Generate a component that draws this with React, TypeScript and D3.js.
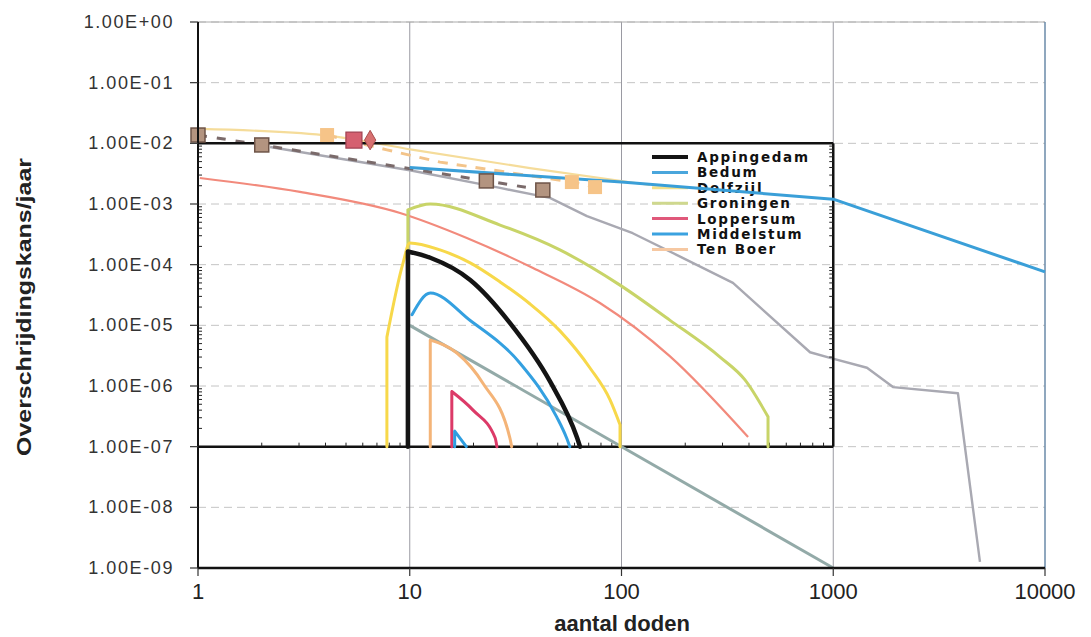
import React from "react";
import * as d3 from "d3";

type P = [number, number];

const X_TICKS = [1, 10, 100, 1000, 10000];
const Y_TICKS = [1, 1e-1, 1e-2, 1e-3, 1e-4, 1e-5, 1e-6, 1e-7, 1e-8, 1e-9];

// inset series (legend)
const appingedam: P[] = [[9.8, 1e-7], [9.8, 1.65e-4], [12.5, 1.3e-4], [19.3, 5.6e-5], [29.7, 1.1e-5], [45.9, 1.2e-6], [61.7, 1.4e-7], [63.7, 1e-7]];
const bedum: P[] = [[10.25, 1.5e-5], [12.5, 3.4e-5], [19.3, 1.2e-5], [33.1, 2.4e-6], [49.4, 3.1e-7], [55, 1.4e-7], [57, 1e-7]];
const delfzijl: P[] = [[7.8, 1e-7], [7.8, 6.4e-6], [9.3, 1.07e-4], [10, 2.28e-4], [13.9, 1.75e-4], [19.3, 1.07e-4], [26.7, 5.2e-5], [37, 2.25e-5], [51.2, 8.1e-6], [71, 1.98e-6], [88.3, 5.9e-7], [98.4, 2.3e-7], [98.4, 1e-7]];
const groningen: P[] = [[9.8, 1e-7], [9.8, 8e-4], [12.5, 1e-3], [26.7, 4.5e-4], [51.2, 1.75e-4], [98.4, 4.6e-5], [169, 1.22e-5], [292, 3.0e-6], [383, 1.26e-6], [492, 3.1e-7], [492, 1e-7]];
const loppersum: P[] = [[15.8, 1e-7], [15.8, 8.1e-7], [19.9, 4e-7], [25.3, 1.4e-7], [25.8, 1e-7]];
const middelstum: P[] = [[16.3, 1e-7], [16.3, 1.8e-7], [18.5, 1e-7]];
const tenBoer: P[] = [[12.5, 1e-7], [12.5, 5.7e-6], [16.7, 3.5e-6], [22.2, 1.1e-6], [29.7, 1.4e-7], [30.3, 1e-7]];

const LEGEND_NAMES = ["Appingedam", "Bedum", "Delfzijl", "Groningen", "Loppersum", "Middelstum", "Ten Boer"];
const LEGEND_COLORS = ["#141414", "#4aa6dc", "#f2e08a", "#cfd88e", "#e0587a", "#3aa2e0", "#f6c8a2"];
const INSET_COLORS = ["#141414", "#34a0e0", "#f7d84a", "#c8d468", "#dc3a68", "#2e9ee0", "#f4b478"];

// background (main) series
const salmonCurve: P[] = [[1.02, 2.68e-3], [3.03, 1.58e-3], [9, 7.1e-4], [18.6, 2.75e-4], [38.2, 8.8e-5], [79.1, 2.33e-5], [169, 3.1e-6], [396, 1.44e-7]];
const blueCurve: P[] = [[10, 4.0e-3], [100, 2.3e-3], [1000, 1.2e-3], [10000, 7.6e-5]];
const grayCurve: P[] = [[2.19, 8.7e-3], [10, 3.6e-3], [26.7, 1.84e-3], [45.9, 1.26e-3], [68.7, 6.3e-4], [113, 3.3e-4], [183, 1.44e-4], [336, 5e-5], [777, 3.6e-6], [966, 2.9e-6], [1443, 2e-6], [1915, 9.6e-7], [3880, 7.6e-7], [4930, 1.26e-9]];
const normLine: P[] = [[10, 1e-5], [1000, 1e-9]];
const brownDashed: P[] = [[1, 1.37e-2], [2, 9.4e-3], [23, 2.4e-3], [42.5, 1.7e-3]];
const paleYellow: P[] = [[1.02, 1.73e-2], [3.9, 1.37e-2], [10.4, 7.8e-3], [37, 3.9e-3], [136, 2.06e-3]];
const tanDashed: P[] = [[4.07, 1.37e-2], [7.8, 7.8e-3], [13.9, 4.9e-3], [58.3, 2.3e-3], [75, 1.9e-3]];
const tanMarkers: P[] = [[4.07, 1.37e-2], [58.3, 2.3e-3], [75, 1.9e-3]];
const pinkSquare: P[] = [[5.45, 1.13e-2]];
const pinkDiamond: P[] = [[6.5, 1.13e-2]];

const fmtY = (v: number) => {
  const e = Math.round(Math.log10(v));
  const s = Math.abs(e).toString().padStart(2, "0");
  return "1.00E" + (e >= 0 ? "+" : "-") + s;
};

export default function App() {
  const x = d3.scaleLog().domain([1, 10000]).range([198, 1045]);
  const y = d3.scaleLog().domain([1, 1e-9]).range([22, 568]);
  const line = d3.line<P>().x((d) => x(d[0])).y((d) => y(d[1]));
  const smooth = d3.line<P>().x((d) => x(d[0])).y((d) => y(d[1])).curve(d3.curveMonotoneX);

  // vertical ends straight, curved middle
  const curvePath = (pts: P[]) => {
    let s = 0;
    while (s < pts.length - 1 && pts[s + 1][0] === pts[s][0]) s++;
    let e = pts.length - 1;
    while (e > 0 && pts[e - 1][0] === pts[e][0]) e--;
    const parts: string[] = [];
    if (s > 0) parts.push(line(pts.slice(0, s + 1))!);
    parts.push(smooth(pts.slice(s, e + 1))!);
    if (e < pts.length - 1) parts.push(line(pts.slice(e))!);
    return parts.join("");
  };

  const insetTop = y(1e-2);
  const insetBottom = y(1e-7);
  const insetRight = x(1000);

  const minorY: number[] = [];
  for (let e = -7; e < -2; e++) for (let m = 2; m <= 9; m++) minorY.push(m * Math.pow(10, e));
  const minorX: number[] = [];
  for (let e = 0; e < 3; e++) for (let m = 2; m <= 9; m++) minorX.push(m * Math.pow(10, e));

  const inset: P[][] = [appingedam, bedum, delfzijl, groningen, loppersum, middelstum, tenBoer];
  const drawOrder = [3, 2, 6, 4, 5, 1, 0];

  return (
    <svg width={1091} height={637} style={{ position: "absolute", left: 0, top: 0, background: "#fff" }}>
      {/* grid */}
      {Y_TICKS.map((t) => (
        <line key={"gy" + t} x1={x(1)} x2={x(10000)} y1={y(t)} y2={y(t)} stroke="#c4c4c4" strokeWidth={1} strokeDasharray="8,5" />
      ))}
      {X_TICKS.slice(1, 4).map((t) => (
        <line key={"gx" + t} x1={x(t)} x2={x(t)} y1={y(1)} y2={y(1e-9)} stroke="#9a9aa2" strokeWidth={1} />
      ))}
      {/* plot frame */}
      <line x1={x(1)} x2={x(10000)} y1={y(1)} y2={y(1)} stroke="#aaaaaa" strokeWidth={1} />
      <line x1={x(10000)} x2={x(10000)} y1={y(1)} y2={y(1e-9)} stroke="#6a8aa8" strokeWidth={1.5} />

      {/* main background series */}
      <path d={smooth(salmonCurve)!} fill="none" stroke="#f28a7c" strokeWidth={2.2} />
      <path d={line(grayCurve)!} fill="none" stroke="#a9a9b2" strokeWidth={2.4} strokeLinejoin="round" />
      <path d={smooth(paleYellow)!} fill="none" stroke="#f5dc9a" strokeWidth={2.2} />
      <path d={line(tanDashed)!} fill="none" stroke="#f3c48a" strokeWidth={3} strokeDasharray="10,9" />
      <path d={line(brownDashed)!} fill="none" stroke="#7a6a6a" strokeWidth={3} strokeDasharray="9,10" />

      {/* inset frame */}
      <line x1={x(1)} x2={insetRight} y1={insetTop} y2={insetTop} stroke="#111" strokeWidth={2.5} />
      <line x1={insetRight} x2={insetRight} y1={insetTop} y2={insetBottom} stroke="#111" strokeWidth={2.5} />
      <line x1={x(1)} x2={insetRight} y1={insetBottom} y2={insetBottom} stroke="#111" strokeWidth={2.5} />
      {minorY.map((v) => (
        <g key={"my" + v}>
          <line x1={x(1)} x2={x(1) + 4} y1={y(v)} y2={y(v)} stroke="#222" strokeWidth={1} />
          <line x1={insetRight - 4} x2={insetRight} y1={y(v)} y2={y(v)} stroke="#222" strokeWidth={1} />
        </g>
      ))}
      {minorX.map((v) => (
        <line key={"mx" + v} x1={x(v)} x2={x(v)} y1={insetBottom - 4} y2={insetBottom} stroke="#222" strokeWidth={1} />
      ))}

      {/* norm line */}
      <path d={line(normLine)!} fill="none" stroke="#93aaa8" strokeWidth={3} />

      {/* inset curves */}
      {drawOrder.map((i) => (
        <path key={"ins" + i} d={curvePath(inset[i])} fill="none" stroke={INSET_COLORS[i]} strokeWidth={i === 0 ? 4.5 : 3} strokeLinejoin="round" strokeLinecap="round" />
      ))}

      {/* legend */}
      {LEGEND_NAMES.map((n, i) => (
        <g key={n} transform={`translate(652, ${157 + i * 15.4})`}>
          <line x1={0} x2={36} y1={0} y2={0} stroke={LEGEND_COLORS[i]} strokeWidth={i === 0 ? 4 : 3} />
          <text x={45} y={5} fontFamily="DejaVu Sans, Verdana, sans-serif" fontWeight="bold" fontSize={13.5} letterSpacing={1.7} fill="#111">
            {n}
          </text>
        </g>
      ))}

      {/* blue main line over legend */}
      <path d={line(blueCurve)!} fill="none" stroke="#3a9fd8" strokeWidth={3} strokeLinejoin="round" />

      {/* markers */}
      {brownDashed.map((d, i) => (
        <rect key={"bm" + i} x={x(d[0]) - 7} y={y(d[1]) - 7} width={14} height={14} fill="#b39480" stroke="#6e5448" strokeWidth={1.5} />
      ))}
      {tanMarkers.map((d, i) => (
        <rect key={"tm" + i} x={x(d[0]) - 7} y={y(d[1]) - 7} width={14} height={14} fill="#f6c488" />
      ))}
      {pinkSquare.map((d, i) => (
        <rect key={"ps" + i} x={x(d[0]) - 8} y={y(d[1]) - 8} width={16} height={16} fill="#d56070" stroke="#a04050" strokeWidth={1.2} />
      ))}
      {pinkDiamond.map((d, i) => (
        <path key={"pd" + i} d={d3.symbol(d3.symbolDiamond, 110)()!} transform={`translate(${x(d[0])},${y(d[1])})`} fill="#d87070" stroke="#a85050" strokeWidth={1} />
      ))}

      {/* axes */}
      <line x1={x(1)} x2={x(1)} y1={y(1)} y2={y(1e-9)} stroke="#111" strokeWidth={2} />
      <line x1={x(1)} x2={x(10000)} y1={y(1e-9)} y2={y(1e-9)} stroke="#111" strokeWidth={2.5} />
      {Y_TICKS.map((t) => (
        <g key={"yt" + t}>
          <line x1={x(1) - 8} x2={x(1)} y1={y(t)} y2={y(t)} stroke="#333" strokeWidth={1.2} />
          <text x={174} y={y(t) + 6} textAnchor="end" fontFamily="Liberation Sans, Arial, sans-serif" fontSize={18} letterSpacing={1.6} fill="#333">
            {fmtY(t)}
          </text>
        </g>
      ))}
      {X_TICKS.map((t) => (
        <g key={"xt" + t}>
          <line x1={x(t)} x2={x(t)} y1={y(1e-9)} y2={y(1e-9) + 8} stroke="#333" strokeWidth={1.2} />
          <text x={x(t)} y={599} textAnchor="middle" fontFamily="Liberation Sans Narrow, Liberation Sans, Arial, sans-serif" fontSize={22} fill="#222">
            {t}
          </text>
        </g>
      ))}
      <text x={622} y={631} textAnchor="middle" fontFamily="Liberation Sans Narrow, Liberation Sans, Arial, sans-serif" fontWeight="bold" fontSize={22} fill="#222">
        aantal doden
      </text>
      <text transform="translate(31, 307) rotate(-90)" textAnchor="middle" fontFamily="Liberation Sans, Arial, sans-serif" fontWeight="bold" fontSize={20} textLength={298} lengthAdjust="spacingAndGlyphs" fill="#222">
        Overschrijdingskans/jaar
      </text>
    </svg>
  );
}
